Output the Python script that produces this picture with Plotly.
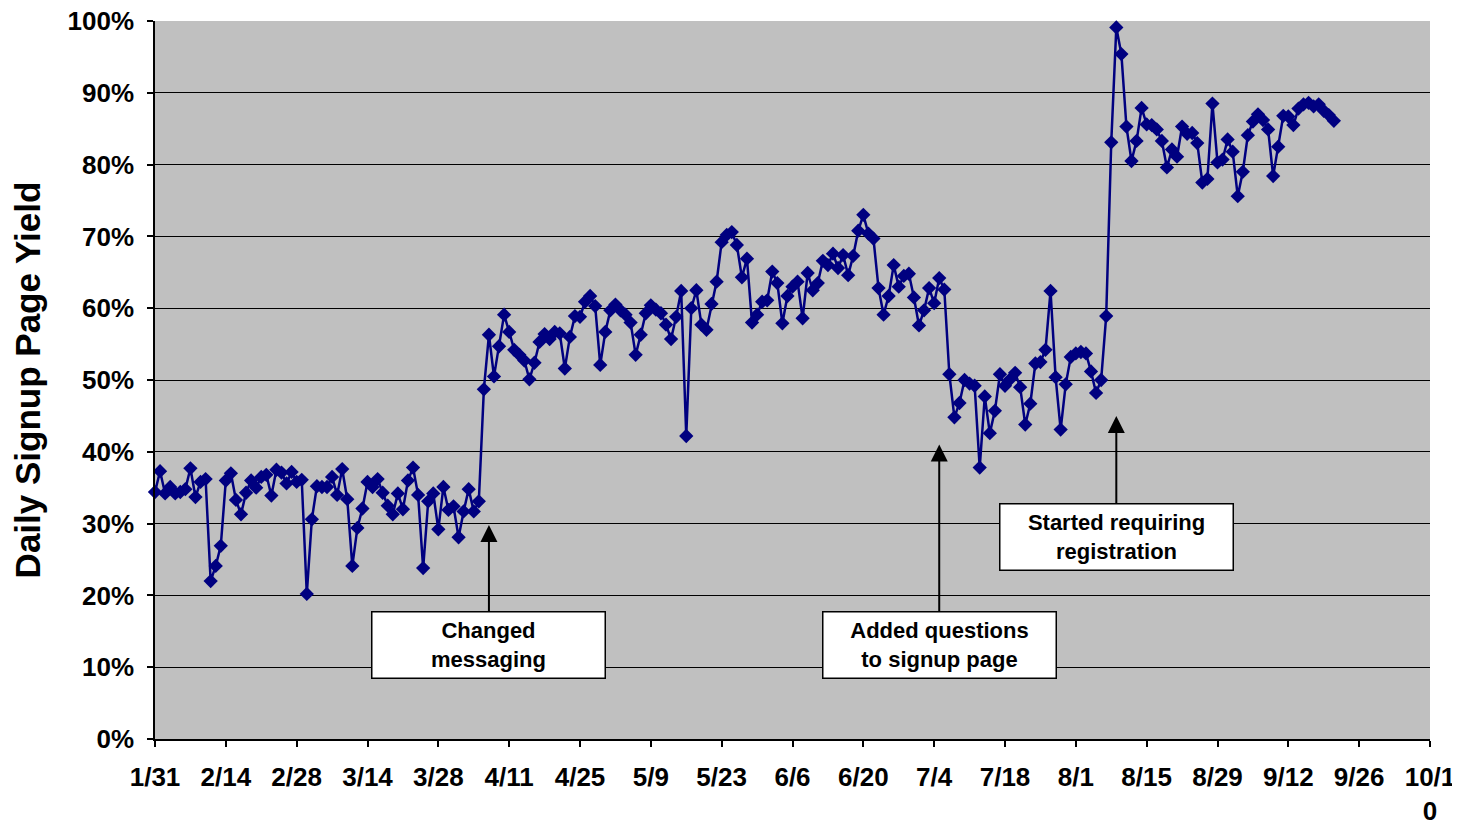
import pandas as pd
import plotly.graph_objects as go

start_date = "2007-01-31"
yield_pct = [
    34.4, 37.3, 34.2, 35.1, 34.2, 34.4, 34.8, 37.7, 33.7, 35.8,
    36.2, 22.0, 24.1, 26.9, 36.0, 37.0, 33.3, 31.3, 34.3, 36.0,
    35.0, 36.5, 36.8, 33.9, 37.5, 37.1, 35.6, 37.2, 35.8, 36.1,
    20.2, 30.6, 35.2, 35.1, 35.1, 36.5, 34.0, 37.6, 33.4, 24.1,
    29.4, 32.1, 35.8, 35.1, 36.2, 34.3, 32.5, 31.3, 34.2, 32.0,
    36.0, 37.8, 34.0, 23.8, 33.1, 34.2, 29.2, 35.1, 31.9, 32.4,
    28.1, 31.7, 34.8, 31.7, 33.1, 48.7, 56.3, 50.5, 54.7, 59.1,
    56.7, 54.2, 53.5, 52.7, 50.1, 52.4, 55.3, 56.4, 55.7, 56.7,
    56.5, 51.6, 56.0, 58.9, 58.8, 60.9, 61.7, 60.3, 52.1, 56.7,
    59.7, 60.5, 59.7, 59.1, 58.0, 53.5, 56.3, 59.3, 60.4, 59.8,
    59.3, 57.7, 55.7, 58.8, 62.4, 42.2, 60.0, 62.5, 57.7, 57.0,
    60.6, 63.7, 69.2, 70.2, 70.6, 68.8, 64.3, 66.9, 58.0, 59.1,
    60.9, 61.1, 65.1, 63.5, 57.9, 61.7, 63.0, 63.7, 58.6, 64.9,
    62.5, 63.5, 66.6, 66.0, 67.6, 65.6, 67.4, 64.6, 67.3, 70.8,
    73.0, 70.4, 69.7, 62.8, 59.1, 61.7, 66.0, 63.0, 64.5, 64.8,
    61.5, 57.6, 59.7, 62.8, 60.7, 64.2, 62.6, 50.8, 44.8, 46.8,
    50.0, 49.5, 49.2, 37.8, 47.7, 42.6, 45.7, 50.8, 49.2, 50.1,
    51.0, 49.0, 43.8, 46.7, 52.3, 52.5, 54.2, 62.4, 50.4, 43.1,
    49.4, 53.2, 53.7, 53.9, 53.7, 51.2, 48.2, 50.0, 58.9, 83.1,
    99.1, 95.4, 85.3, 80.5, 83.3, 87.9, 85.6, 85.5, 84.9, 83.3,
    79.6, 82.1, 81.1, 85.3, 84.3, 84.4, 83.0, 77.5, 78.0, 88.5,
    80.3, 80.7, 83.5, 81.8, 75.6, 79.0, 84.1, 86.0, 87.0, 86.2,
    84.9, 78.4, 82.5, 86.8, 86.7, 85.5, 87.8, 88.4, 88.6, 88.1,
    88.4, 87.5, 86.9, 86.1,
]
tick_labels = ["1/31", "2/14", "2/28", "3/14", "3/28", "4/11", "4/25", "5/9",
               "5/23", "6/6", "6/20", "7/4", "7/18", "8/1", "8/15", "8/29",
               "9/12", "9/26", "10/1<br>0"]
y_ticks = [0, 10, 20, 30, 40, 50, 60, 70, 80, 90, 100]
y_tick_labels = [f"{v}%" for v in y_ticks]

events = [
    {"date": "2007-04-07", "y": 29.8, "text": "Changed<br>messaging", "ay": 120},
    {"date": "2007-07-05", "y": 41.0, "text": "Added questions<br>to signup page", "ay": 200},
    {"date": "2007-08-09", "y": 45.0, "text": "Started requiring<br>registration", "ay": 121},
]

dates = pd.date_range(start_date, periods=len(yield_pct), freq="D")
tick_vals = pd.date_range(start_date, periods=len(tick_labels), freq="14D")

FONT = "Arial, Liberation Sans, sans-serif"
NAVY = "#000080"

fig = go.Figure()
fig.add_trace(go.Scatter(
    x=dates, y=yield_pct, mode="lines+markers",
    line=dict(color=NAVY, width=2.5),
    marker=dict(symbol="diamond", size=11, color=NAVY),
    cliponaxis=False, showlegend=False,
))

for ev in events:
    fig.add_annotation(
        x=ev["date"], y=ev["y"], xref="x", yref="y",
        text="<b>" + ev["text"] + "</b>",
        showarrow=True, ax=0, ay=ev["ay"],
        arrowhead=2, arrowsize=1.7, arrowwidth=2, arrowcolor="black",
        font=dict(family=FONT, size=22, color="black"),
        bgcolor="white", bordercolor="black", borderwidth=1.5,
        width=228, height=61, borderpad=2, align="center",
    )

# page body adds an 8px offset; the figure is sized so the plot area lands
# at x 155..1430, y 21..739 of the window
fig.update_layout(
    width=1452, height=816,
    margin=dict(l=147, r=30, t=13, b=85, autoexpand=False),
    paper_bgcolor="white", plot_bgcolor="#C0C0C0",
    font=dict(family=FONT, color="black"),
)
fig.update_xaxes(
    type="date",
    range=[tick_vals[0], tick_vals[-1]],
    tickvals=tick_vals, ticktext=["<b>" + t + "</b>" for t in tick_labels],
    tickfont=dict(family=FONT, size=26, color="black"),
    ticks="outside", ticklen=6, tickwidth=1.5, tickcolor="black",
    ticklabelstandoff=8, ticklabeloverflow="allow", automargin=False,
    showline=True, linecolor="black", linewidth=1.5,
    showgrid=False, zeroline=False,
)
fig.update_yaxes(
    range=[0, 100],
    tickvals=y_ticks, ticktext=["<b>" + t + "</b>" for t in y_tick_labels],
    tickfont=dict(family=FONT, size=26, color="black"),
    ticks="outside", ticklen=6, tickwidth=1.5, tickcolor="black",
    ticklabelstandoff=8, ticklabeloverflow="allow", automargin=False,
    showline=True, linecolor="black", linewidth=1.5,
    showgrid=True, gridcolor="black", gridwidth=1, zeroline=False,
    title=dict(text="<b>Daily Signup Page Yield</b>",
               font=dict(family=FONT, size=35, color="black"), standoff=30),
)

fig.write_html("out.html")
